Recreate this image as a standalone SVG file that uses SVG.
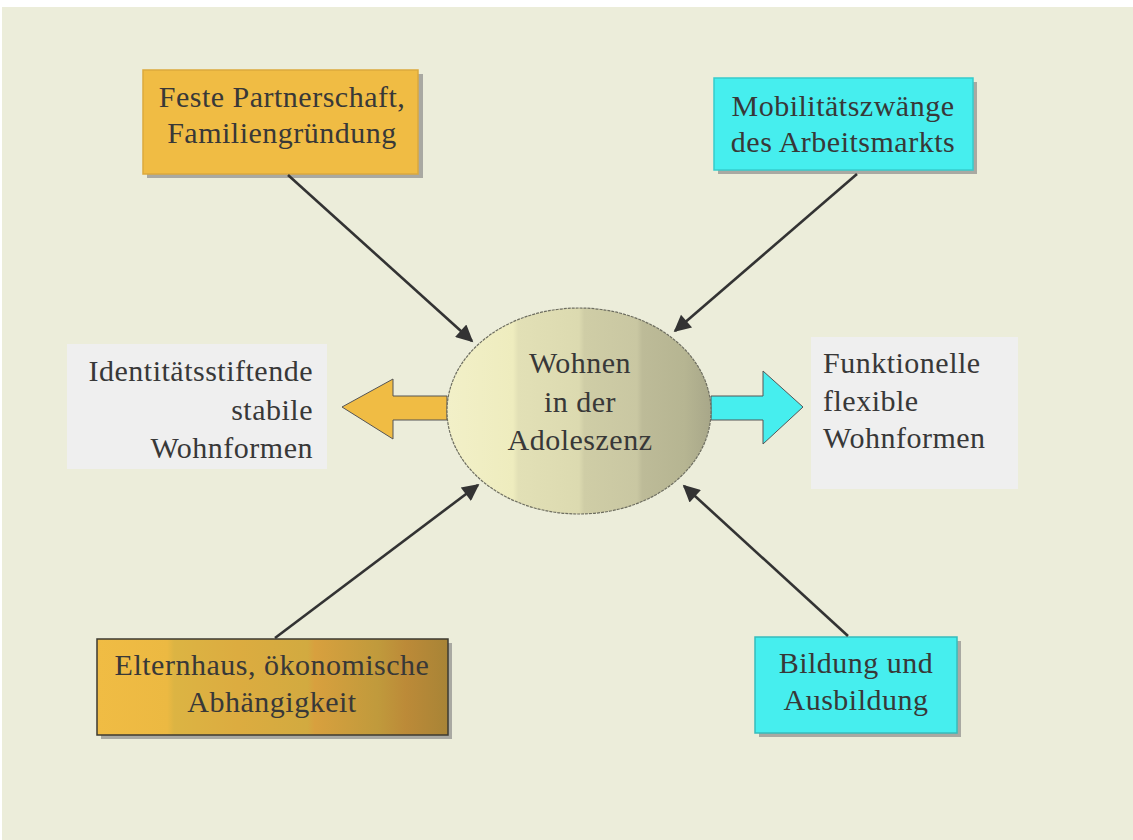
<svg xmlns="http://www.w3.org/2000/svg" width="1133" height="840" viewBox="0 0 1133 840">
<defs>
<style>
.t{font-family:"Liberation Serif","Times New Roman",serif;font-size:30px;letter-spacing:0.5px;fill:#383838;}
.c{text-anchor:middle;}
.conn{stroke:#333;stroke-width:2.6;fill:none;marker-end:url(#ah);}
.shadow{fill:#a9a9a2;}
</style>
<marker id="ah" viewBox="0 0 10 10" refX="9" refY="5" markerWidth="7.5" markerHeight="6.5" orient="auto" markerUnits="strokeWidth">
<path d="M0,0 L10,5 L0,10 z" fill="#333"/>
</marker>
<linearGradient id="eg" x1="0" y1="0" x2="1" y2="0">
<stop offset="0" stop-color="#f2f0c8"/>
<stop offset="0.25" stop-color="#eeecbe"/>
<stop offset="0.27" stop-color="#e2e0b6"/>
<stop offset="0.5" stop-color="#dcdab0"/>
<stop offset="0.52" stop-color="#cfcda6"/>
<stop offset="0.72" stop-color="#c9c7a2"/>
<stop offset="0.74" stop-color="#bdbb98"/>
<stop offset="0.9" stop-color="#b6b592"/>
<stop offset="1" stop-color="#a8a789"/>
</linearGradient>
<linearGradient id="bg2" x1="0" y1="0" x2="1" y2="0">
<stop offset="0" stop-color="#f0bc44"/>
<stop offset="0.2" stop-color="#ecb942"/>
<stop offset="0.22" stop-color="#dcb443"/>
<stop offset="0.4" stop-color="#dcac40"/>
<stop offset="0.6" stop-color="#d2aa40"/>
<stop offset="0.62" stop-color="#d8a03e"/>
<stop offset="0.8" stop-color="#c09a3c"/>
<stop offset="0.88" stop-color="#bc8a38"/>
<stop offset="1" stop-color="#a88436"/>
</linearGradient>
</defs>
<rect x="0" y="0" width="1133" height="840" fill="#ffffff"/>
<rect x="2" y="7" width="1131" height="833" fill="#ecedda"/>

<g id="n-partnerschaft">
<rect class="shadow" x="147" y="74" width="276" height="104"/>
<rect x="143" y="70" width="275" height="104" fill="#f0bc44" stroke="#dca93c" stroke-width="1.5"/>
<text class="t c" x="282" y="107">Feste Partnerschaft,</text>
<text class="t c" x="282" y="143">Familiengründung</text>
</g>

<g id="n-mobilitaet">
<rect class="shadow" x="718" y="82" width="259" height="92"/>
<rect x="714" y="78" width="259" height="92" fill="#46eeee" stroke="#36cccc" stroke-width="1.5"/>
<text class="t c" x="843" y="116">Mobilitätszwänge</text>
<text class="t c" x="843" y="152">des Arbeitsmarkts</text>
</g>

<g id="n-identitaet">
<rect x="67" y="344" width="260" height="125" fill="#efefef"/>
<text class="t" x="313" y="381" text-anchor="end">Identitätsstiftende</text>
<text class="t" x="313" y="420" text-anchor="end">stabile</text>
<text class="t" x="313" y="458" text-anchor="end">Wohnformen</text>
</g>

<g id="n-funktionell">
<rect x="811" y="337" width="207" height="152" fill="#efefef"/>
<text class="t" x="823" y="373">Funktionelle</text>
<text class="t" x="823" y="411">flexible</text>
<text class="t" x="823" y="448">Wohnformen</text>
</g>

<g id="n-links-pfeil">
<path d="M447,396 L393,396 L393,379 L342,407 L393,439 L393,420 L447,420 Z" fill="#f0bc44" stroke="#555" stroke-width="1"/>
</g>

<g id="n-rechts-pfeil">
<path d="M711,396 L763,396 L763,371 L803,407 L763,444 L763,420 L711,420 Z" fill="#46eeee" stroke="#555" stroke-width="1"/>
</g>

<g id="n-wohnen">
<ellipse cx="579" cy="411" rx="132" ry="103" fill="url(#eg)" stroke="#6e6e60" stroke-width="1.2" stroke-dasharray="3 1"/>
<text class="t c" x="580" y="373">Wohnen</text>
<text class="t c" x="580" y="412">in der</text>
<text class="t c" x="580" y="450">Adoleszenz</text>
</g>

<g id="n-elternhaus">
<rect class="shadow" x="101" y="643" width="351" height="96"/>
<rect x="97" y="639" width="351" height="96" fill="url(#bg2)" stroke="#3c3a30" stroke-width="1.5"/>
<text class="t c" x="272" y="675">Elternhaus, ökonomische</text>
<text class="t c" x="272" y="712">Abhängigkeit</text>
</g>

<g id="n-bildung">
<rect class="shadow" x="759" y="641" width="202" height="96"/>
<rect x="755" y="637" width="202" height="96" fill="#46eeee" stroke="#36bcbc" stroke-width="1.5"/>
<text class="t c" x="856" y="673">Bildung und</text>
<text class="t c" x="856" y="710">Ausbildung</text>
</g>

<g id="connectors">
<line class="conn" x1="288" y1="175" x2="472" y2="341"/>
<line class="conn" x1="857" y1="174" x2="675" y2="331"/>
<line class="conn" x1="275" y1="638" x2="478" y2="485"/>
<line class="conn" x1="848" y1="636" x2="684" y2="486"/>
</g>
</svg>
